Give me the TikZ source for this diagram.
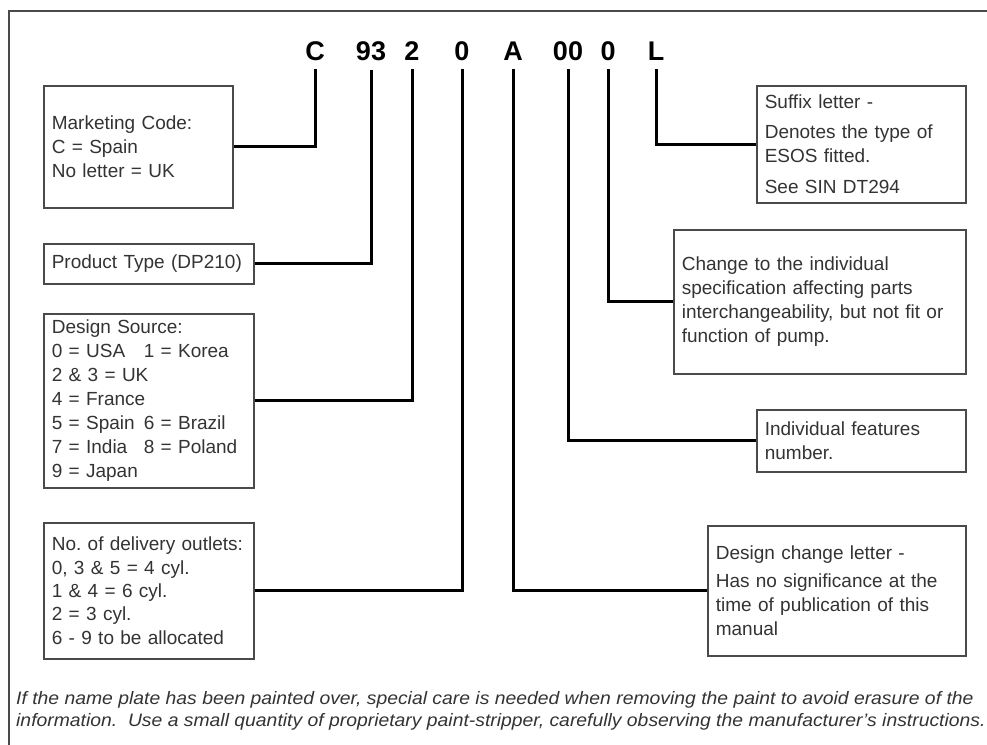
\documentclass[tikz,border=0pt]{standalone}
\usepackage{fontspec}
\setmainfont{Liberation Sans}
\definecolor{txt}{HTML}{333333}
\definecolor{bd}{HTML}{4A4A4A}
\begin{document}
\begin{tikzpicture}[x=1pt,y=-1pt,
  box/.style={draw=bd, line width=1.6pt, rectangle, anchor=north west,
    inner xsep=8pt, inner ysep=0pt, align=left, text=txt,
    font=\fontsize{19}{24}\selectfont},
  hdr/.style={font=\fontsize{27}{27}\selectfont\bfseries, anchor=base,
    inner xsep=0pt, inner ysep=9pt, text=black},
  conn/.style={line width=3pt, black},
  frame/.style={draw=bd, line width=1.5pt},
  note/.style={font=\fontsize{18}{22}\selectfont\itshape, text=txt,
    anchor=base west, inner sep=0pt}]
\useasboundingbox (0,0) rectangle (987,744);
\clip (0,0) rectangle (987,744);
\draw[frame] (9,11) rectangle (1100,800);

% header
\node[hdr] (hC)  at (315,60) {C};
\node[hdr] (h93) at (371,60) {93};
\node[hdr] (h2)  at (412,60) {2};
\node[hdr] (h0a) at (462,60) {0};
\node[hdr] (hA)  at (513,60) {A};
\node[hdr] (h00) at (568,60) {00};
\node[hdr] (h0b) at (608,60) {0};
\node[hdr] (hL)  at (656,60) {L};

% left boxes
\node[box, text width=173pt, minimum height=122pt] (mk) at (43,85)
  {Marketing Code:\\C = Spain\\No letter = UK};
\node[box, text width=194pt, minimum height=40pt] (pt) at (43,243)
  {Product Type (DP210)};
\node[box, text width=194pt, minimum height=174pt] (ds) at (43,313)
  {Design Source:\\\makebox[92pt][l]{0 = USA}1 = Korea\\2 \& 3 = UK\\4 = France\\\makebox[92pt][l]{5 = Spain}6 = Brazil\\\makebox[92pt][l]{7 = India}8 = Poland\\9 = Japan};
\node[box, text width=194pt, minimum height=136pt, font=\fontsize{19}{23.3}\selectfont] (dl) at (43,522)
  {\mbox{No.\ of delivery outlets:}\\0, 3 \& 5 = 4 cyl.\\1 \& 4 = 6 cyl.\\2 = 3 cyl.\\6 - 9 to be allocated};

% right boxes
\node[box, text width=193pt, minimum height=117pt] (sf) at (756,85)
  {Suffix letter -\\[6pt]Denotes the type of\\ESOS fitted.\\[7pt]See SIN DT294};
\node[box, text width=276pt, minimum height=144pt] (ch) at (673,229)
  {Change to the individual\\specification affecting parts\\interchangeability, but not fit or\\function of pump.};
\node[box, text width=193pt, minimum height=62pt] (ind) at (756,409)
  {Individual features\\number.};
\node[box, text width=242pt, minimum height=130pt] (dc) at (707,525)
  {Design change letter -\\[4pt]Has no significance at the\\time of publication of this\\manual};

% connectors
\draw[conn] (hC.south)  |- (mk.east);
\draw[conn] (h93.south) |- (pt.east);
\draw[conn] (h2.south)  |- (ds.east);
\draw[conn] (h0a.south) |- (dl.east);
\draw[conn] (hL.south)  |- (sf.west);
\draw[conn] (h0b.south) |- (ch.west);
\draw[conn] (h00.south) |- (ind.west);
\draw[conn] (hA.south)  |- (dc.west);

% note
\node[note] (n1) at (16,704) {\scalebox{1.075}[1]{If the name plate has been painted over, special care is needed when removing the paint to avoid erasure of the}};
\node[note] (n2) at (16,726) {\scalebox{1.075}[1]{information.\ \ Use a small quantity of proprietary paint-stripper, carefully observing the manufacturer's instructions.}};
\end{tikzpicture}
\end{document}
